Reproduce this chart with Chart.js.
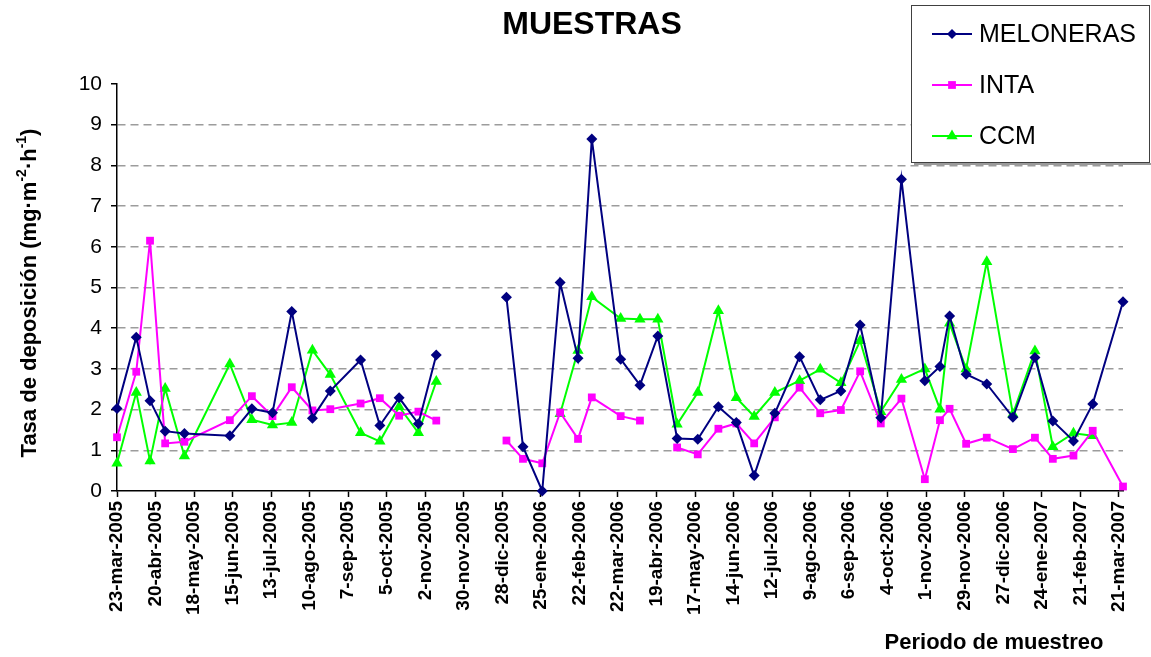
<!DOCTYPE html>
<html>
<head>
<meta charset="utf-8">
<script src="https://cdn.jsdelivr.net/npm/chart.js@4/dist/chart.umd.min.js"></script>
<style>
  html, body { margin: 0; padding: 0; background: #fff; }
  #wrap { width: 1151px; height: 657px; }
</style>
</head>
<body>
<div id="wrap"><canvas id="chart" width="1151" height="657"></canvas></div>
<script>
// fechas de muestreo (la de 30-nov-2005 no tiene datos: corta las lineas)
const sampleDates = [
  '2005-03-23','2005-04-06','2005-04-16','2005-04-27','2005-05-11','2005-06-13','2005-06-29','2005-07-14',
  '2005-07-28','2005-08-12','2005-08-25','2005-09-16','2005-09-30','2005-10-14','2005-10-28','2005-11-10',
  '2005-11-30',
  '2005-12-31','2006-01-12','2006-01-26','2006-02-08','2006-02-21','2006-03-03','2006-03-24','2006-04-07',
  '2006-04-20','2006-05-04','2006-05-19','2006-06-03','2006-06-16','2006-06-29','2006-07-14','2006-08-01',
  '2006-08-16','2006-08-31','2006-09-14','2006-09-29','2006-10-14','2006-10-31','2006-11-11','2006-11-18',
  '2006-11-30','2006-12-15','2007-01-03','2007-01-19','2007-02-01','2007-02-16','2007-03-02','2007-03-24'
];
const meloneras = [
  2.03, 3.78, 2.22, 1.47, 1.41, 1.36, 2.02, 1.92, 4.41, 1.79, 2.46, 3.22, 1.61, 2.29, 1.65, 3.34,
  null,
  4.76, 1.09, 0.00, 5.12, 3.26, 8.65, 3.24, 2.60, 3.81, 1.29, 1.27, 2.07, 1.68, 0.38, 1.91, 3.30,
  2.24, 2.46, 4.08, 1.80, 7.66, 2.71, 3.06, 4.30, 2.87, 2.63, 1.81, 3.28, 1.72, 1.23, 2.14, 4.65
];
const inta = [
  1.32, 2.93, 6.15, 1.17, 1.21, 1.74, 2.33, 1.84, 2.55, 1.98, 2.01, 2.15, 2.28, 1.85, 1.95, 1.73,
  null,
  1.24, 0.79, 0.68, 1.93, 1.28, 2.30, 1.84, 1.73, null, 1.07, 0.90, 1.53, 1.66, 1.17, 1.81, 2.54,
  1.91, 1.99, 2.94, 1.66, 2.27, 0.29, 1.74, 2.02, 1.16, 1.31, 1.03, 1.31, 0.79, 0.87, 1.48, 0.11
];
const ccm = [
  0.68, 2.42, 0.74, 2.52, 0.86, 3.12, 1.75, 1.62, 1.68, 3.46, 2.86, 1.43, 1.22, 2.07, 1.43, 2.69,
  null,
  null, null, null, 1.90, 3.45, 4.77, 4.24, 4.22, 4.22, 1.64, 2.42, 4.43, 2.29, 1.83, 2.42, 2.71,
  2.99, 2.66, 3.69, 1.95, 2.74, 3.00, 2.01, 4.12, 3.00, 5.63, 1.89, 3.44, 1.09, 1.42, 1.36, null
];
const tickLabels = [
  '23-mar-2005','20-abr-2005','18-may-2005','15-jun-2005','13-jul-2005','10-ago-2005','7-sep-2005',
  '5-oct-2005','2-nov-2005','30-nov-2005','28-dic-2005','25-ene-2006','22-feb-2006','22-mar-2006',
  '19-abr-2006','17-may-2006','14-jun-2006','12-jul-2006','9-ago-2006','6-sep-2006','4-oct-2006',
  '1-nov-2006','29-nov-2006','27-dic-2006','24-ene-2007','21-feb-2007','21-mar-2007'
];
const seriesNames = ['MELONERAS', 'INTA', 'CCM'];
const seriesColors = ['#000080', '#ff00ff', '#00ff00'];
const seriesMarkers = ['rectRot', 'rect', 'triangle'];

const FONT = "'Liberation Sans', Arial, sans-serif";
const t0 = Date.parse(sampleDates[0]);
function dayOf(s) { return (Date.parse(s) - t0) / 864e5; }

function makeSet(i, values, radius) {
    return {
        label: seriesNames[i],
        data: sampleDates.map((d, k) => ({ x: dayOf(d), y: values[k] })),
        borderColor: seriesColors[i],
        backgroundColor: seriesColors[i],
        borderWidth: 2,
        pointStyle: seriesMarkers[i],
        pointRadius: radius,
        pointBorderWidth: 0,
        pointBackgroundColor: seriesColors[i],
        tension: 0,
        spanGaps: false,
        clip: false
    };
}

function drawMarker(ctx, style, x, y, r) {
    ctx.beginPath();
    if (style === 'rectRot') {
        ctx.moveTo(x, y - r); ctx.lineTo(x + r, y); ctx.lineTo(x, y + r); ctx.lineTo(x - r, y);
    } else if (style === 'rect') {
        const s = r * Math.SQRT1_2;
        ctx.rect(x - s, y - s, 2 * s, 2 * s);
    } else {
        ctx.moveTo(x, y - r); ctx.lineTo(x + r * 0.866, y + r * 0.5); ctx.lineTo(x - r * 0.866, y + r * 0.5);
    }
    ctx.closePath();
    ctx.fill();
}

const textPlugin = {
    id: 'texts',
    afterDraw(chart) {
        const ctx = chart.ctx;
        ctx.save();
        ctx.fillStyle = '#000';
        // titulo
        ctx.font = 'bold 32px ' + FONT;
        ctx.textAlign = 'center'; ctx.textBaseline = 'middle';
        ctx.fillText('MUESTRAS', 592, 25);
        // titulo eje x
        ctx.font = 'bold 22px ' + FONT;
        ctx.fillText('Periodo de muestreo', 994, 643);
        // titulo eje y con superindices
        const parts = [['Tasa de deposición (mg·m', false], ['-2', true], ['·h', false], ['-1', true], [')', false]];
        const big = 'bold 22px ' + FONT, small = 'bold 14px ' + FONT;
        let total = 0;
        parts.forEach(p => { ctx.font = p[1] ? small : big; total += ctx.measureText(p[0]).width; });
        ctx.translate(30, 293);
        ctx.rotate(-Math.PI / 2);
        ctx.textAlign = 'left';
        let px = -total / 2;
        parts.forEach(p => {
            ctx.font = p[1] ? small : big;
            ctx.fillText(p[0], px, p[1] ? -8 : 0);
            px += ctx.measureText(p[0]).width;
        });
        ctx.restore();

        // leyenda
        ctx.save();
        ctx.fillStyle = '#9a9a9a';
        ctx.fillRect(914, 163, 237, 2);
        ctx.fillStyle = '#fff';
        ctx.fillRect(911, 5, 239, 158);
        ctx.strokeStyle = '#404040';
        ctx.lineWidth = 1;
        ctx.strokeRect(911.5, 5.5, 238, 157);
        const rows = [34, 85, 136];
        const radii = [5, 5.5, 6.5];
        ctx.font = '25px ' + FONT;
        ctx.textBaseline = 'middle';
        ctx.textAlign = 'left';
        rows.forEach((y, i) => {
            ctx.strokeStyle = seriesColors[i];
            ctx.lineWidth = 2;
            ctx.beginPath(); ctx.moveTo(932, y); ctx.lineTo(972, y); ctx.stroke();
            ctx.fillStyle = seriesColors[i];
            drawMarker(ctx, seriesMarkers[i], 952, y, radii[i]);
            ctx.fillStyle = '#000';
            ctx.fillText(seriesNames[i], 979, y + 1);
        });
        ctx.restore();
    }
};

new Chart(document.getElementById('chart'), {
    type: 'line',
    data: {
        datasets: [makeSet(0, meloneras, 5.5), makeSet(1, inta, 5.5), makeSet(2, ccm, 6.5)]
    },
    options: {
        responsive: false,
        animation: false,
        events: [],
        layout: { padding: { top: 84, right: 28, left: 0, bottom: 0 } },
        plugins: { legend: { display: false }, title: { display: false }, tooltip: { enabled: false } },
        scales: {
            x: {
                type: 'linear',
                min: 0,
                max: 731,
                afterBuildTicks: s => { s.ticks = tickLabels.map((l, i) => ({ value: i * 28 })); },
                afterFit: s => { s.height = 166; },
                ticks: {
                    autoSkip: false,
                    maxRotation: 90,
                    minRotation: 90,
                    padding: 4,
                    color: '#000',
                    font: { family: FONT, size: 19, weight: 'bold' },
                    callback: (v, i) => tickLabels[i]
                },
                grid: { drawOnChartArea: false, drawTicks: true, tickLength: 6, tickColor: '#000', tickWidth: 1.5 },
                border: { color: '#000', width: 1.5 }
            },
            y: {
                min: 0,
                max: 10,
                afterFit: s => { s.width = 117; },
                ticks: {
                    stepSize: 1,
                    padding: 9,
                    color: '#000',
                    font: { family: FONT, size: 21 }
                },
                grid: {
                    color: c => (c.tick && (c.tick.value === 0 || c.tick.value === 10)) ? 'rgba(0,0,0,0)' : '#9c9c9c',
                    lineWidth: 1.5,
                    tickLength: 6,
                    tickColor: '#000',
                    tickWidth: 1.5,
                    tickBorderDash: []
                },
                border: { color: '#000', width: 1.5, dash: [8, 5] }
            }
        }
    },
    plugins: [textPlugin]
});
</script>
</body>
</html>
